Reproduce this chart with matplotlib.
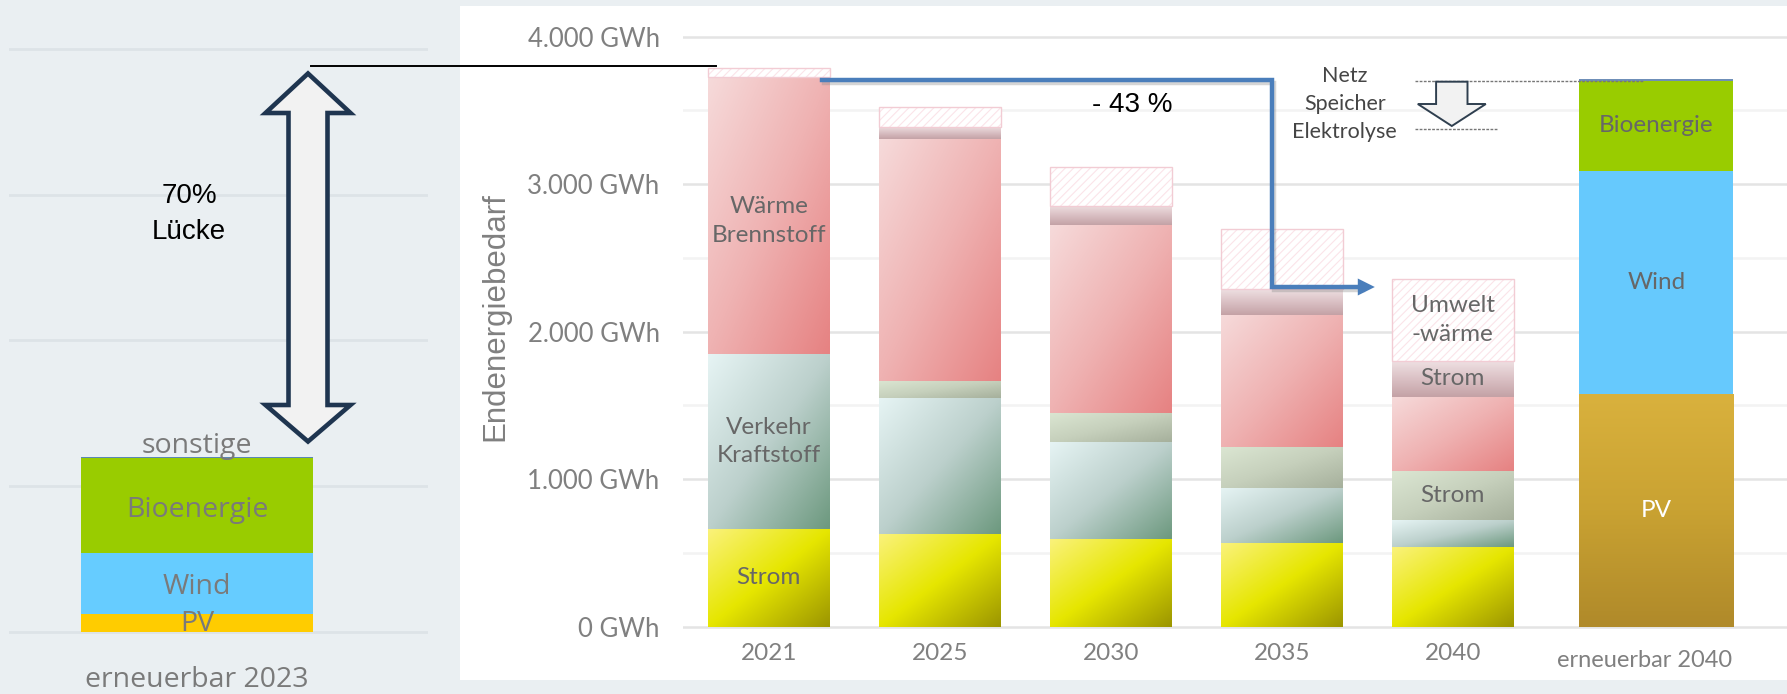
import numpy as np
import matplotlib
matplotlib.use('Agg')
import matplotlib.pyplot as plt
from matplotlib.patches import Rectangle, Polygon
from matplotlib.lines import Line2D
from matplotlib.colors import LinearSegmentedColormap
import matplotlib.patheffects as pe

plt.rcParams['hatch.linewidth'] = 0.8

# ---------------- data (GWh) ----------------
years = ['2021', '2025', '2030', '2035', '2040']
strom = [664, 626, 595, 565, 540]              # Strom (Basis)
verkehr = [1185, 924, 659, 373, 181]           # Verkehr Kraftstoff
verkehr_strom = [0, 116, 197, 278, 332]        # Strom Verkehr
waerme = [1876, 1642, 1272, 897, 506]          # Waerme Brennstoff
waerme_strom = [0, 82, 129, 174, 244]          # Strom Waerme
umwelt = [61, 131, 267, 411, 552]              # Umweltwaerme (schraffiert)

ren40_labels = ['PV', 'Wind', 'Bioenergie', 'sonstige']
ren40_values = [1576, 1514, 612, 8]

ren23_labels = ['PV', 'Wind', 'Bioenergie', 'sonstige']
ren23_values = [124, 418, 648, 8]

main_ticks = [0, 1000, 2000, 3000, 4000]

# ---------------- figure ----------------
W, H = 1787, 694
fig = plt.figure(figsize=(W / 100, H / 100), dpi=100)
fig.patch.set_facecolor('#eaeff2')


def fx(px):
    return px / W


def fy(py):
    return 1 - py / H


# white panel behind main chart
fig.add_artist(Rectangle((fx(460), fy(680)), fx(1787) - fx(460), fy(6) - fy(680),
                         transform=fig.transFigure, facecolor='white',
                         edgecolor='none', zorder=-1))

# main axes: 0 GWh at y=626.7px, 0.1475 px per GWh, 171 px per category
Y0, KY = 626.7, 0.1475
X0, KX = 768.0, 171.0


def xd(px):
    return (px - X0) / KX


def yd(py):
    return (Y0 - py) / KY


ax = fig.add_axes([fx(683.3), fy(Y0 + 30 * KY), fx(1787) - fx(683.3),
                   (30 * KY + 4200 * KY) / H])
ax.set_facecolor('none')
for s in ax.spines.values():
    s.set_visible(False)

for v in range(0, 4001, 500):
    major = v % 1000 == 0
    ax.axhline(v, color='#e4e4e4' if major else '#f3f3f3', lw=1.8, zorder=0.5)


def grad_bar(a, x, bottom, height, width, stops, mode):
    if height <= 0:
        return
    rect = Rectangle((x - width / 2, bottom), width, height,
                     facecolor='none', edgecolor='none')
    a.add_patch(rect)
    u = np.linspace(0, 1, 80)
    U, V = np.meshgrid(u, u)
    t = (U + V) / 2 if mode == 'diag' else V
    cmap = LinearSegmentedColormap.from_list('g', stops)
    im = a.imshow(t, cmap=cmap, vmin=0, vmax=1, origin='upper', aspect='auto',
                  interpolation='bilinear', zorder=2,
                  extent=(x - width / 2, x + width / 2, bottom, bottom + height))
    im.set_clip_path(rect)


bw = 0.713
xs = np.arange(len(years))
layers = [
    (strom, 'diag', ['#faf27a', '#e6e600', '#9c9600']),
    (verkehr, 'diag', ['#e6f4f4', '#bcd0cc', '#6d997f']),
    (verkehr_strom, 'diag', ['#dbe6d2', '#c6d0bc', '#a6b09c']),
    (waerme, 'diag', ['#f6dada', '#efb2b2', '#e68282']),
    (waerme_strom, 'vert', ['#eee0e2', '#dac0c4', '#c4a2a6']),
]
bottom = np.zeros(len(years))
for vals, mode, stops in layers:
    for i, x in enumerate(xs):
        grad_bar(ax, x, bottom[i], vals[i], bw, stops, mode)
    bottom += np.array(vals)

# hatched Umweltwaerme: faint hatch plus thin pink outline
ax.bar(xs, umwelt, bw, bottom=bottom, facecolor='white', edgecolor='#fbe4e9',
       hatch='////', linewidth=0, zorder=2)
ax.bar(xs, umwelt, bw, bottom=bottom, facecolor='none', edgecolor='#f2ccd4',
       linewidth=1.0, zorder=2.1)

# renewable 2040 column
xr = 5.19
bwr = 0.903
rb = 0
ren_colors = [None, '#66c9fd', '#99cc00', '#6f8fb8']
for lab, val, col in zip(ren40_labels, ren40_values, ren_colors):
    if col is None:
        grad_bar(ax, xr, rb, val, bwr, ['#d9b13d', '#c9a232', '#b08a2a'], 'vert')
    else:
        ax.bar(xr, val, bwr, bottom=rb, color=col, linewidth=0, zorder=2)
    rb += val

ax.set_xlim(-0.5, (1787 - 683.3) / KX - 0.5)
ax.set_ylim(-30, 4200)
ax.set_aspect('auto')

ax.set_yticks(main_ticks)
ax.set_yticklabels([f'{v:,.0f}'.replace(',', '.') + ' GWh' for v in main_ticks],
                   fontfamily='Lato', fontsize=18.5, color='#808080')
ax.tick_params(axis='y', length=0, pad=17)
ax.set_xticks([])

lab_kw = dict(ha='center', va='center', fontfamily='Lato', fontsize=17.5,
              color='#676767', zorder=8, linespacing=1.45)
for x, y in zip(xs, years):
    ax.text(x, yd(653.3), y, ha='center', va='center', fontfamily='Lato',
            fontsize=17.5, color='#808080', clip_on=False)
ax.text(xr - 0.07, yd(660.7), 'erneuerbar 2040', ha='center', va='center',
        fontfamily='Lato', fontsize=17, color='#808080', clip_on=False)

c0 = np.cumsum([0, strom[0], verkehr[0], verkehr_strom[0], waerme[0]])
ax.text(0, strom[0] / 2, 'Strom', **lab_kw)
ax.text(0, c0[2] - verkehr[0] / 2, 'Verkehr\nKraftstoff', **lab_kw)
ax.text(0, c0[4] - waerme[0] / 2 - 35, 'Wärme\nBrennstoff', **lab_kw)
c4 = np.cumsum([0, strom[4], verkehr[4], verkehr_strom[4], waerme[4],
                waerme_strom[4], umwelt[4]])
ax.text(4, c4[3] - verkehr_strom[4] / 2, 'Strom', **lab_kw)
ax.text(4, c4[5] - waerme_strom[4] / 2, 'Strom', **lab_kw)
ax.text(4, c4[6] - umwelt[4] / 2, 'Umwelt\n-wärme', **lab_kw)
cr = np.cumsum([0] + ren40_values)
ax.text(xr, ren40_values[0] / 2, 'PV', **{**lab_kw, 'color': 'white'})
ax.text(xr, cr[2] - ren40_values[1] / 2, 'Wind', **lab_kw)
ax.text(xr, cr[3] - ren40_values[2] / 2, 'Bioenergie', **lab_kw)

# -43 % connector
blue = Line2D([xd(821.6), xd(1270.7), xd(1270.7), xd(1360)],
              [yd(80), yd(80), yd(286.7), yd(286.7)], color='#4a7ebb', lw=3.2,
              solid_joinstyle='miter', zorder=6,
              path_effects=[pe.SimpleLineShadow(offset=(1.5, -2.5), shadow_color='#888888', alpha=0.35),
                            pe.Normal()])
ax.add_line(blue)
ax.add_patch(Polygon([(xd(1357), yd(278.5)), (xd(1374), yd(287)), (xd(1357), yd(295.5))],
                     closed=True, facecolor='#4a7ebb', edgecolor='none', zorder=6))
ax.text(xd(1131), yd(105), '- 43 %', ha='center', va='center',
        fontfamily='Liberation Sans', fontsize=20, color='black', zorder=8)

# Netz / Speicher / Elektrolyse
for txt, py in [('Netz', 76), ('Speicher', 104), ('Elektrolyse', 131.7)]:
    ax.text(xd(1344), yd(py), txt, ha='center', va='center', fontfamily='Lato',
            fontsize=15.5, color='#454545', zorder=8)
ax.plot([xd(1414), xd(1643.6)], [yd(80.7)] * 2, ls=(0, (2, 1)), color='#777777',
        lw=1, zorder=7)
ax.plot([xd(1414), xd(1497)], [yd(128.7)] * 2, ls=(0, (2, 1)), color='#777777',
        lw=1, zorder=7)
cx, sh, hh = xd(1451), 15.7 / KX, 34 / KX
ax.add_patch(Polygon([(cx - sh, yd(81.7)), (cx + sh, yd(81.7)), (cx + sh, yd(104)),
                      (cx + hh, yd(104)), (cx, yd(126)), (cx - hh, yd(104)),
                      (cx - sh, yd(104))], closed=True, facecolor='#f2f2f2',
                     edgecolor='#2f3f4f', lw=1.4, zorder=8))

fig.text(fx(495), fy(316.7), 'Endenergiebedarf', rotation=90, ha='center',
         va='center', fontfamily='Liberation Sans', fontsize=22.5, color='#808080')

# ---------------- left panel: erneuerbar 2023 ----------------
YL0, KYL = 631.7, 0.1457
axL = fig.add_axes([fx(9), fy(YL0 + 50 * KYL), fx(428) - fx(9), (4150 * KYL) / H])
axL.set_facecolor('none')
axL.axis('off')
axL.set_xlim(0, 1)
axL.set_ylim(-50, 4100)
for v in main_ticks:
    axL.axhline(v, color='#dde3e7', lw=2, zorder=0.5)

xl, bwl = (197 - 9) / 419, 232.3 / 419
left_colors = ['#ffcc00', '#66ccff', '#99cc00', '#5b87b5']
lb = 0
for val, col in zip(ren23_values, left_colors):
    axL.bar(xl, val, bwl, bottom=lb, color=col, linewidth=0, zorder=2)
    lb += val


def ydl(py):
    return (YL0 - py) / KYL


lkw = dict(ha='center', va='center', fontfamily='Open Sans', fontsize=20.5,
           color='#7a7a7a', zorder=5, clip_on=False)
axL.text(xl, ydl(446), 'sonstige', **lkw)
axL.text(xl, ydl(510), 'Bioenergie', **lkw)
axL.text(xl, ydl(586.7), 'Wind', **lkw)
axL.text(xl, ydl(624), 'PV', **lkw)
axL.text(xl, ydl(680), 'erneuerbar 2023', **lkw)

# gap arrow and reference line
fig.add_artist(Line2D([fx(311), fx(715.7)], [fy(65.7), fy(65.7)], color='black',
                      lw=1.4, transform=fig.transFigure, zorder=5))
arrow_px = [(308, 73.5), (350.5, 113), (327.5, 113), (327.5, 405), (350.5, 405),
            (308, 441.5), (265.5, 405), (288.5, 405), (288.5, 113), (265.5, 113)]
fig.add_artist(Polygon([(fx(a), fy(b)) for a, b in arrow_px], closed=True,
                       facecolor='#f2f2f2', edgecolor='#1f3550', lw=3.3,
                       joinstyle='miter', transform=fig.transFigure, zorder=5))
fig.text(fx(189), fy(196), '70%', ha='center', va='center',
         fontfamily='Liberation Sans', fontsize=20, color='black')
fig.text(fx(189), fy(232), 'Lücke', ha='center', va='center',
         fontfamily='Liberation Sans', fontsize=20, color='black')

fig.savefig('out.png', dpi=100, facecolor=fig.get_facecolor())
